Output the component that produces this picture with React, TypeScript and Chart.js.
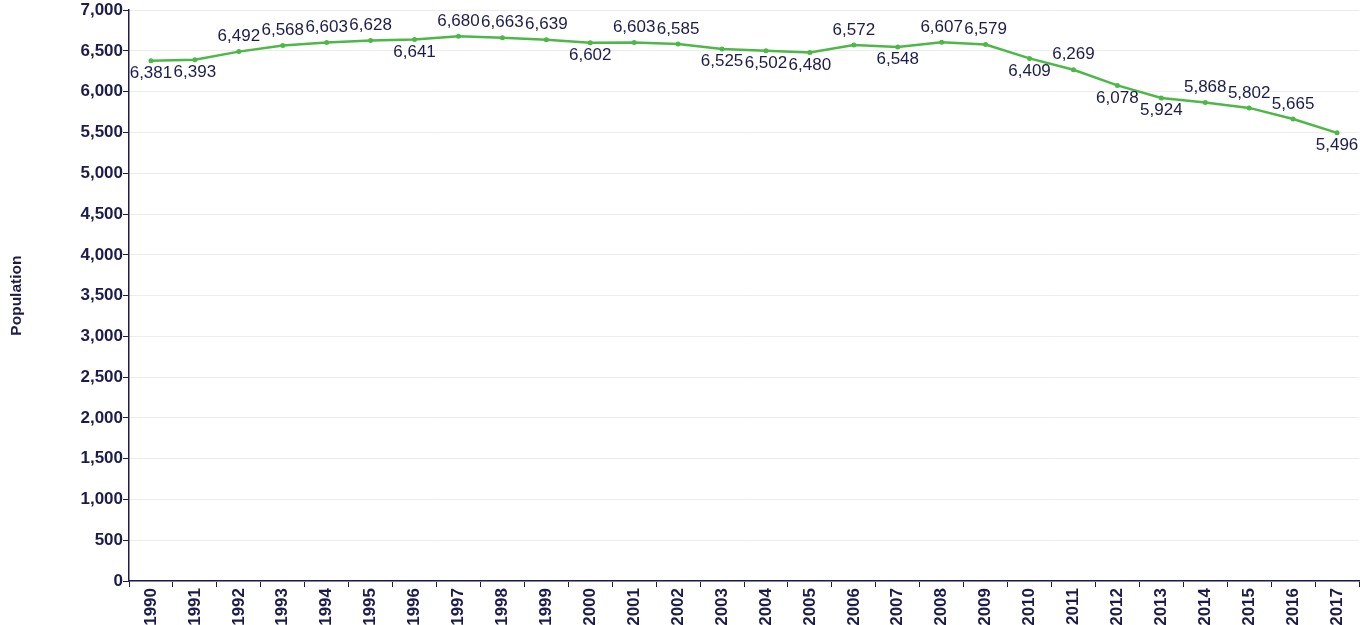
import React, { useEffect, useRef } from "react";
import { Chart, registerables } from "chart.js";

Chart.register(...registerables);

const years: string[] = [
  "1990", "1991", "1992", "1993", "1994", "1995", "1996", "1997", "1998", "1999",
  "2000", "2001", "2002", "2003", "2004", "2005", "2006", "2007", "2008", "2009",
  "2010", "2011", "2012", "2013", "2014", "2015", "2016", "2017",
];

const population: number[] = [
  6381, 6393, 6492, 6568, 6603, 6628, 6641, 6680, 6663, 6639,
  6602, 6603, 6585, 6525, 6502, 6480, 6572, 6548, 6607, 6579,
  6409, 6269, 6078, 5924, 5868, 5802, 5665, 5496,
];

// label placement relative to each point: "a" = above, "b" = below
const labelSide: string[] = [
  "b", "b", "a", "a", "a", "a", "b", "a", "a", "a",
  "b", "a", "a", "b", "b", "b", "a", "b", "a", "a",
  "b", "a", "b", "b", "a", "a", "a", "b",
];

const yMin = 0;
const yMax = 7000;
const yStep = 500;

const NAVY = "#1c1c4c";
const GREEN = "#4db848";
const FONT = "Arial, 'Liberation Sans', sans-serif";

const fmt = (v: number) => v.toLocaleString("en-US");

const dataLabelPlugin = {
  id: "pointLabels",
  afterDatasetsDraw(chart: any) {
    const { ctx } = chart;
    const meta = chart.getDatasetMeta(0);
    ctx.save();
    ctx.font = `17px ${FONT}`;
    ctx.fillStyle = NAVY;
    ctx.textAlign = "center";
    ctx.textBaseline = "middle";
    meta.data.forEach((pt: any, i: number) => {
      const above = labelSide[i] === "a";
      const y = above ? pt.y - 15 : pt.y + 12.5;
      ctx.fillText(fmt(population[i]), pt.x, y);
    });
    ctx.restore();
  },
};

export default function App() {
  const ref = useRef<HTMLCanvasElement | null>(null);

  useEffect(() => {
    document.body.style.margin = "0";
    if (!ref.current) return;
    const chart = new Chart(ref.current, {
      type: "line",
      data: {
        labels: years,
        datasets: [
          {
            label: "Population",
            data: population,
            borderColor: GREEN,
            backgroundColor: GREEN,
            borderWidth: 2.5,
            pointRadius: 2.5,
            pointBackgroundColor: GREEN,
            pointBorderColor: GREEN,
            pointBorderWidth: 0,
            tension: 0,
            fill: false,
          },
        ],
      },
      options: {
        animation: false,
        responsive: false,
        maintainAspectRatio: false,
        layout: { padding: { left: 0, right: 13, top: 10, bottom: 0 } },
        plugins: {
          legend: { display: false },
          tooltip: { enabled: false },
        },
        scales: {
          x: {
            type: "category",
            offset: true,
            grid: {
              offset: true,
              drawOnChartArea: false,
              tickLength: 6,
              tickColor: NAVY,
              tickWidth: 1,
            },
            border: { color: NAVY, width: 1.5 },
            ticks: {
              color: NAVY,
              font: { family: FONT, size: 17, weight: "bold" },
              minRotation: 90,
              maxRotation: 90,
              autoSkip: false,
              padding: 1,
            },
            afterFit: (scale: any) => {
              scale.height = 44;
            },
          },
          y: {
            min: yMin,
            max: yMax,
            grid: {
              color: "#ececec",
              tickLength: 6,
              tickColor: NAVY,
              tickWidth: 1,
            },
            border: { color: NAVY, width: 1.5 },
            ticks: {
              stepSize: yStep,
              color: NAVY,
              font: { family: FONT, size: 17, weight: "bold" },
              padding: 0,
              callback: (v: any) => fmt(Number(v)),
            },
            title: {
              display: true,
              text: "Population",
              color: NAVY,
              font: { family: FONT, size: 15.5, weight: "bold" },
              padding: { top: 7, bottom: 0 },
            },
            afterFit: (scale: any) => {
              scale.width = 129;
            },
          },
        },
      },
      plugins: [dataLabelPlugin],
    });
    return () => chart.destroy();
  }, []);

  return (
    <div style={{ width: 1372, height: 625, position: "relative" }}>
      <canvas ref={ref} width={1372} height={625} style={{ display: "block" }} />
    </div>
  );
}
